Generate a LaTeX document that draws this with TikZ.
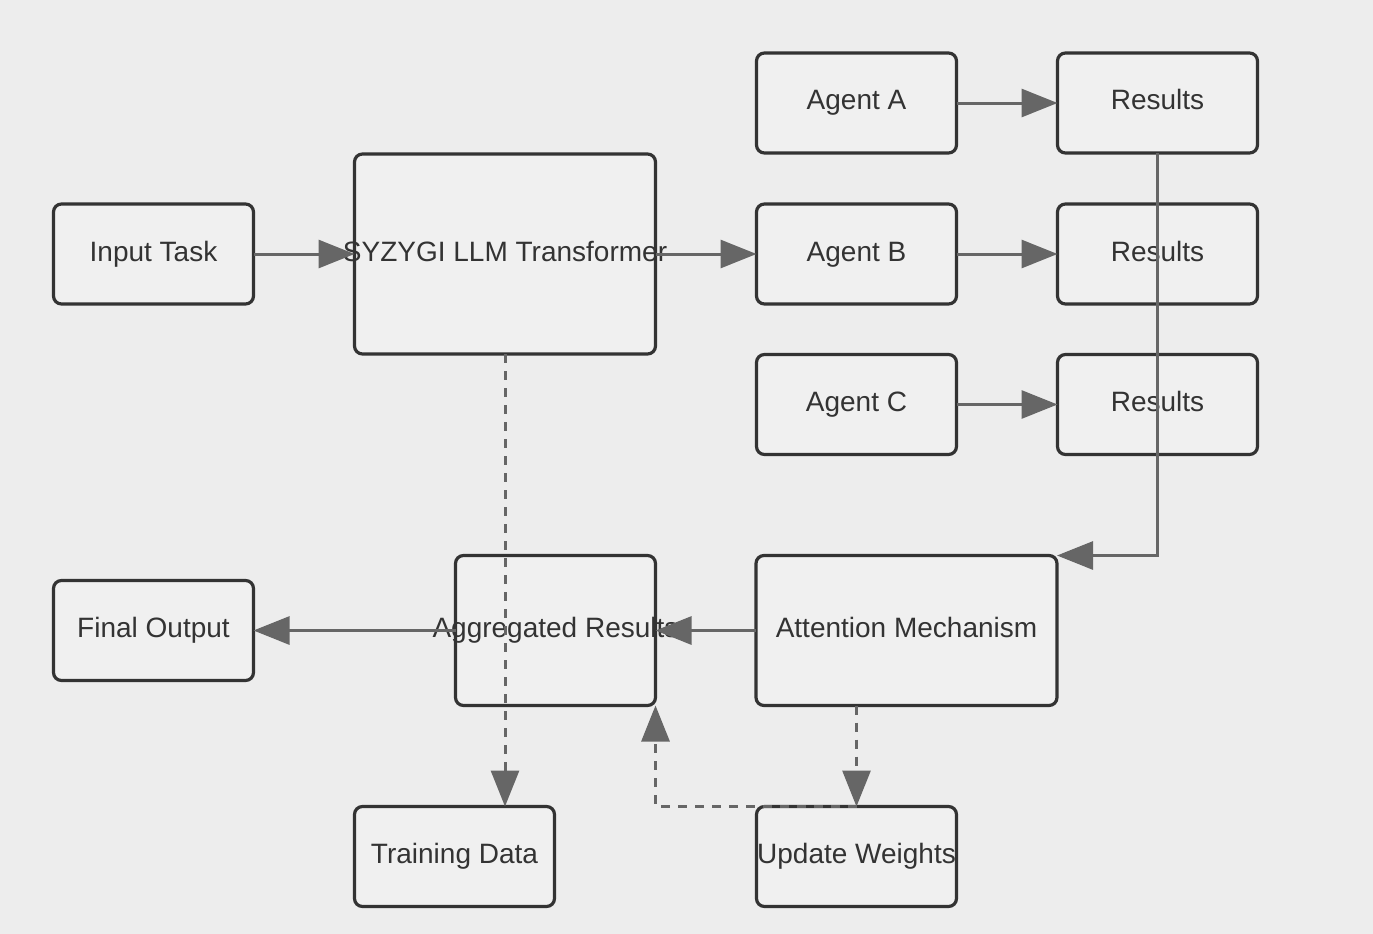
\documentclass[tikz,border=0pt]{standalone}
\usepackage{fontspec}
\setmainfont{Liberation Sans}
\usetikzlibrary{arrows.meta}
\definecolor{bgc}{HTML}{EDEDED}
\definecolor{boxfill}{HTML}{F0F0F0}
\definecolor{boxline}{HTML}{333333}
\definecolor{edgec}{HTML}{666666}
\begin{document}
\begin{tikzpicture}[x=1pt,y=-1pt,
  lbl/.style={text=boxline, font=\fontsize{28}{32}\selectfont, text height=20pt, text depth=6pt},
  box/.style={lbl, draw=boxline, fill=boxfill, line width=3.2pt, rounded corners=8pt,
    minimum width=200pt, minimum height=100pt, inner sep=0pt, outer sep=0pt},
  edge/.style={draw=edgec, line width=3pt, -{Triangle[length=36pt,width=28pt]}},
  dashline/.style={dash pattern=on 9pt off 8pt}
]
\fill[bgc] (0,0) rectangle (1373,934);
\useasboundingbox (0,0) rectangle (1373,934);

\node[box] (in) at (153.5,254) {Input Task};
\node[box, minimum width=301pt, minimum height=200pt] (llm) at (505,254) {};
\node[box] (aA) at (856.5,103) {Agent A};
\node[box] (rA) at (1157.5,103) {Results};
\node[box] (aB) at (856.5,254) {Agent B};
\node[box] (rB) at (1157.5,254) {Results};
\node[box] (aC) at (856.5,404.5) {Agent C};
\node[box] (rC) at (1157.5,404.5) {Results};
\node[box, minimum width=301pt, minimum height=150pt] (att) at (906.5,630.5) {Attention Mechanism};
\node[box, minimum height=150pt] (agg) at (555.5,630.5) {};
\node[box] (fin) at (153.5,630.5) {Final Output};
\node[box] (td) at (454.5,856.5) {Training Data};
\node[box] (uw) at (856.5,856.5) {};

\node[lbl, inner sep=0pt] (llmt) at (llm.center |- in.center) {SYZYGI LLM Transformer};
\node[lbl, inner sep=0pt] (aggt) at (agg.center) {Aggregated Results};
\node[lbl, inner sep=0pt] (uwt) at (uw.center) {Update Weights};

\draw[edge] (in.east) -- (llm.west);
\draw[edge] (llm.east |- aB.west) -- (aB.west);
\draw[edge] (aA.east) -- (rA.west);
\draw[edge] (aB.east) -- (rB.west);
\draw[edge] (aC.east) -- (rC.west);
\draw[edge] (rA.south) |- (att.north east);
\draw[edge] (att.west) -- (agg.east);
\draw[edge] (agg.west) -- (fin.east);
\draw[edge, dashline] (llm.south) -- (llm.south |- td.north);
\draw[edge, dashline] (att.south -| uw.north) -- (uw.north);
\draw[edge, dashline] (uw.north) -| (agg.south east);
\end{tikzpicture}
\end{document}
